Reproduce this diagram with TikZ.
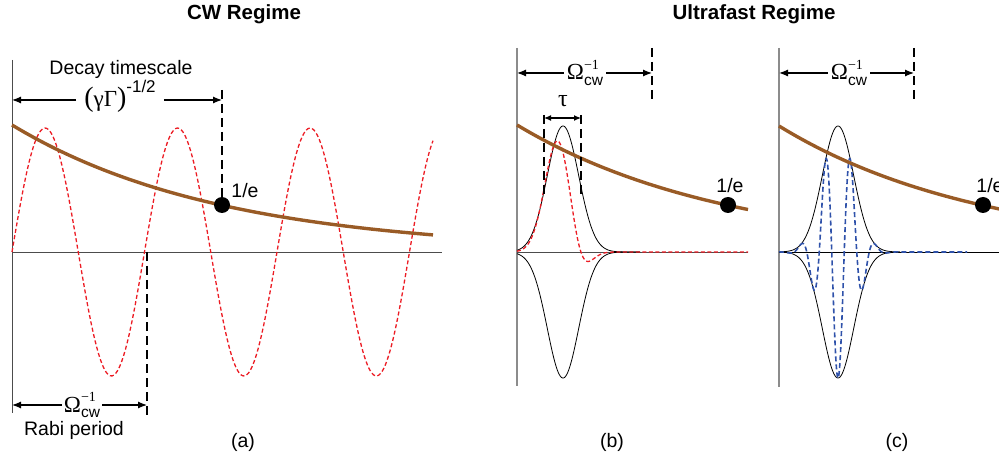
\documentclass[tikz,border=0pt]{standalone}
\usepackage{fontspec}
\setmainfont{Liberation Sans}
\newfontfamily\grk{Liberation Serif}
\usepackage{tikz}
\usetikzlibrary{positioning,arrows.meta}
\usepackage{xcolor}
\definecolor{decaybrown}{RGB}{153,91,38}
\definecolor{rabired}{RGB}{236,28,36}
\definecolor{pulseblue}{RGB}{47,82,170}
% Omega_cw^{-1}, set as text
\newcommand\omcw{{\fontsize{23}{23}\selectfont\grk Ω}\rlap{\raisebox{0.55em}{\fontsize{14}{14}\selectfont\grk −1}}\raisebox{-0.3em}{\fontsize{15.5}{15.5}\selectfont cw}}

\tikzset{
  lbl/.style={font=\fontsize{19.5}{22}\selectfont, inner sep=1pt},
  titlelbl/.style={font=\fontsize{20.5}{23}\selectfont\bfseries, inner sep=0pt},
  axisline/.style={draw=black!70, line width=0.9pt},
  vaxis/.style={draw=black!45, line width=2pt},
  decayline/.style={draw=decaybrown, line width=3.4pt},
  rabiline/.style={draw=rabired, line width=1.3pt, dash pattern=on 4pt off 2.5pt},
  pulseline/.style={draw=pulseblue, line width=1.6pt, dash pattern=on 5pt off 3pt},
  envline/.style={draw=black, line width=0.8pt},
  guide/.style={draw=black, line width=1.5pt, dash pattern=on 9pt off 5pt},
  arr/.style={-{Latex[length=9pt,width=7pt]}, line width=1.2pt},
  dot/.style={circle, fill=black, minimum size=16pt, inner sep=0pt}
}

\begin{document}
\begin{tikzpicture}[x=1pt,y=-1pt]
\useasboundingbox (0,0) rectangle (999,457);

\node[titlelbl] (cwtitle) at (244,14) {CW Regime};
\node[titlelbl] (uftitle) at (754,14) {Ultrafast Regime};

% (a) CW regime
\draw[axisline] (12,60) -- (12,413);
\draw[axisline] (12,252) -- (442,252);
\draw[rabiline] plot[domain=12:433,samples=220] (\x,{252-124*sin(2.717*(\x-12))});
\draw[decayline] plot[domain=12:433,samples=60] (\x,{252-127*exp(-(\x-12)/210)});
\node[dot] (ea) at (222,205) {};
\node[lbl] (ealbl) at (245,191) {1/e};
\coordinate (decaytop) at (222,90);
\draw[guide] (decaytop) -- (ea);
\node[lbl] (decaytxt) at (121,69) {Decay timescale};
\coordinate (dl) at (12,100);
\coordinate (dr) at (222,100);
\node[lbl, anchor=base, inner xsep=8pt, inner ysep=0pt] (dlab) at (120,107)
  {{\fontsize{28}{28}\selectfont\grk(}{\fontsize{23}{23}\selectfont\grk γΓ}{\fontsize{28}{28}\selectfont\grk)}\raisebox{0.72em}{\fontsize{17}{17}\selectfont -1/2}};
\draw[arr] (dlab.west |- dl) -- (dl);
\draw[arr] (dlab.east |- dr) -- (dr);
\coordinate (rabitop) at (147,252);
\coordinate (rabibot) at (147,415);
\draw[guide] (rabitop) -- (rabibot);
\coordinate (rl) at (12,405);
\coordinate (rr) at (147,405);
\node[lbl, anchor=base, inner xsep=2pt] (rabilab) at (82,412) {\omcw};
\draw[arr] (rabilab.west |- rl) -- (rl);
\draw[arr] (rabilab.east |- rr) -- (rr);
\node[lbl] (rabitxt) at (74,430) {Rabi period};
\node[lbl] (sublbla) at (243,442) {(a)};

% (b) ultrafast, single pulse
\draw[vaxis] (517,48) -- (517,386);
\draw[axisline] (517,252) -- (748,252);
\draw[envline] plot[domain=517:640,samples=120] (\x,{252-126*exp(-((\x-563)/22.2)^2)});
\draw[envline] plot[domain=517:640,samples=120] (\x,{252+126*exp(-((\x-563)/22.2)^2)});
\draw[rabiline] plot[domain=517:625,samples=140] (\x,{252-113*exp(-((\x-558)/18.4)^2)+24*exp(-((\x-580)/14.1)^2)}) -- (748,252);
\draw[decayline] plot[domain=517:748,samples=50] (\x,{252-127*exp(-(\x-517)/211)});
\node[dot] (eb) at (728,205) {};
\node[lbl] (eblbl) at (730,186) {1/e};
\coordinate (taul) at (544,115);
\coordinate (taulb) at (544,197);
\coordinate (taur) at (581,115);
\coordinate (taurb) at (581,197);
\draw[guide] (taul) -- (taulb);
\draw[guide] (taur) -- (taurb);
\draw[{Latex[length=7pt,width=6pt]}-{Latex[length=7pt,width=6pt]}, line width=1.2pt] (taul |- 0,118) -- (taur |- 0,118);
\node[lbl, font=\fontsize{24}{24}\selectfont\grk] (taulbl) at (563,101) {τ};
\coordinate (omtopb) at (652,48);
\coordinate (ombotb) at (652,102);
\draw[guide] (omtopb) -- (ombotb);
\coordinate (obl) at (517,73);
\coordinate (obr) at (652,73);
\node[lbl, anchor=base, inner xsep=3pt] (omlabb) at (585,80) {\omcw};
\draw[arr] (omlabb.west |- obl) -- (obl);
\draw[arr] (omlabb.east |- obr) -- (obr);
\node[lbl] (sublblb) at (612,442) {(b)};

% (c) ultrafast, many cycles
\draw[vaxis] (779,48) -- (779,387);
\draw[draw=black, line width=0.9pt] (779,252) -- (999,252);
\draw[envline] plot[domain=779:900,samples=120] (\x,{252-126*exp(-((\x-838)/22.2)^2)});
\draw[envline] plot[domain=779:900,samples=120] (\x,{252+126*exp(-((\x-838)/22.2)^2)});
\draw[pulseline] plot[domain=779:900,samples=400] (\x,{252+126*exp(-((\x-838)/22.2)^2)*cos(14.4*(\x-838))}) -- (967,252);
\draw[decayline] plot[domain=779:1000,samples=50] (\x,{252-126*exp(-(\x-779)/205)});
\node[dot] (ec) at (983,205) {};
\node[lbl] (eclbl) at (990,186) {1/e};
\coordinate (omtopc) at (914,48);
\coordinate (ombotc) at (914,102);
\draw[guide] (omtopc) -- (ombotc);
\coordinate (ocl) at (779,73);
\coordinate (ocr) at (914,73);
\node[lbl, anchor=base, inner xsep=3pt] (omlabc) at (849,80) {\omcw};
\draw[arr] (omlabc.west |- ocl) -- (ocl);
\draw[arr] (omlabc.east |- ocr) -- (ocr);
\node[lbl] (sublblc) at (897,442) {(c)};
\end{tikzpicture}
\end{document}
